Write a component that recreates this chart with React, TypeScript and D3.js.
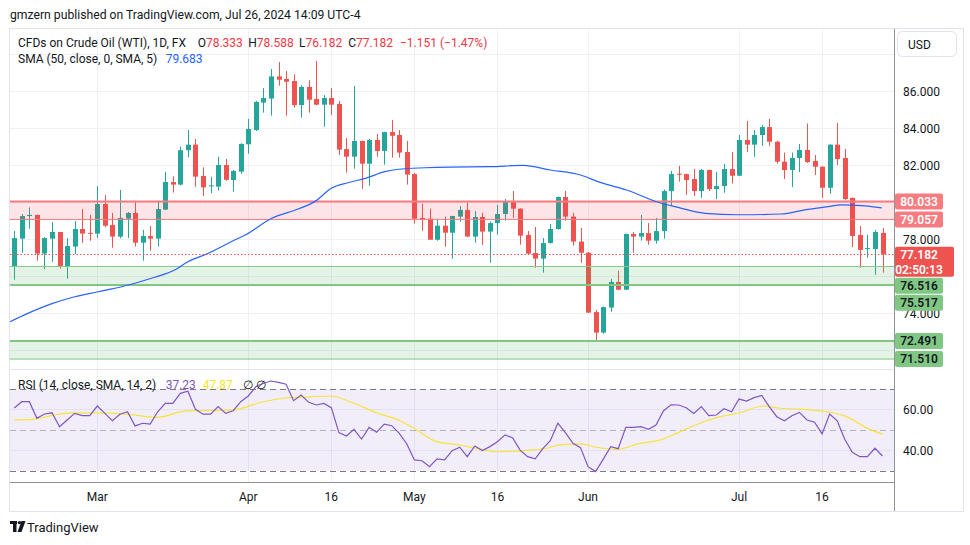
import React from 'react';
import * as d3 from 'd3';

// ---------- DATA ----------
const OPEN = [76.54,78.02,79.24,79.30,77.21,78.02,78.38,76.54,77.59,78.54,78.33,78.29,79.89,78.76,78.13,79.10,79.41,77.80,78.16,78.02,
  79.59,81.08,80.94,82.80,83.10,81.41,80.86,80.83,82.00,81.19,81.64,83.12,83.89,85.37,85.59,86.79,86.65,86.54,85.24,86.22,
  85.57,85.26,85.62,85.30,82.86,82.45,83.30,82.07,83.35,82.76,83.78,83.62,82.70,81.51,79.14,79.10,77.96,78.72,78.34,79.21,
  79.57,78.13,79.19,78.40,78.86,79.35,80.00,79.64,78.22,77.24,76.94,77.78,78.54,80.27,79.21,77.86,77.26,74.05,72.94,74.29,
  75.68,75.26,78.27,78.13,78.32,77.91,78.43,80.59,81.53,81.51,81.24,80.59,81.73,80.70,80.86,81.78,81.42,83.35,83.10,83.62,
  84.05,83.26,82.18,81.73,82.38,82.81,82.22,81.91,80.77,83.10,82.38,80.22,78.22,77.45,77.46,78.333];
const HIGH = [78.43,79.35,79.71,79.32,78.10,78.92,78.38,78.05,78.97,79.62,79.30,80.86,80.38,79.41,80.65,79.46,80.02,78.49,78.70,80.08,
  81.63,81.39,83.00,83.90,83.40,81.87,81.37,82.45,82.32,81.73,83.17,84.49,85.46,86.16,87.19,87.57,87.08,86.90,86.31,86.59,
  87.62,85.78,86.16,85.46,83.46,86.27,83.32,83.41,83.68,83.80,84.43,83.89,83.30,81.57,79.91,79.64,79.10,79.21,79.26,79.78,
  79.95,79.51,79.41,78.94,79.84,80.16,80.59,79.66,78.43,78.65,78.05,78.81,80.30,80.59,79.41,78.59,77.30,74.16,74.35,75.84,
  76.29,78.30,78.38,79.30,78.86,79.14,80.67,81.68,81.95,81.53,81.78,81.78,81.75,81.62,82.05,82.70,83.62,84.38,83.89,84.16,
  84.49,83.30,82.67,82.67,83.14,84.24,82.54,81.93,83.12,84.27,82.86,80.25,78.70,78.22,78.49,78.588];
const LOW = [75.80,77.26,78.56,76.83,76.36,76.76,76.40,75.85,77.19,77.80,77.91,78.05,78.63,77.53,78.04,78.05,77.59,76.83,77.37,77.59,
  79.57,80.51,80.90,82.41,80.83,80.32,80.47,80.61,81.15,80.56,81.53,82.61,83.84,84.83,84.67,86.29,84.67,85.10,84.56,84.83,
  85.24,84.07,84.70,82.54,81.59,81.80,80.72,80.88,82.45,82.02,82.40,82.40,80.94,78.83,78.45,77.95,77.91,77.59,76.94,78.94,
  78.10,77.80,77.69,76.72,78.23,78.99,79.14,77.69,77.18,76.45,76.18,77.75,78.50,78.99,77.64,76.72,74.00,72.50,72.88,74.07,
  75.24,75.24,77.26,77.91,77.69,77.75,78.02,79.84,81.10,80.38,80.32,80.22,80.59,80.16,80.50,81.00,81.40,82.70,82.45,83.04,
  83.04,82.07,81.24,80.81,81.62,82.11,81.46,80.22,80.45,82.00,80.11,77.57,76.45,76.99,76.07,76.182];
const CLOSE = [78.05,79.24,79.30,77.21,78.05,78.38,76.54,77.62,78.54,78.29,78.30,79.89,78.72,78.13,79.14,79.41,77.80,78.16,78.02,79.62,
  81.08,80.94,82.80,83.10,81.37,80.79,80.90,82.00,81.20,81.68,83.14,83.95,85.41,85.62,86.79,86.61,86.50,85.24,86.22,85.53,
  85.26,85.62,85.26,82.83,82.45,83.30,82.07,83.35,82.76,83.78,83.58,82.67,81.48,79.10,79.05,77.96,78.72,78.34,79.24,79.57,
  78.13,79.19,78.40,78.86,79.35,80.00,79.64,78.18,77.21,76.94,77.78,78.54,80.27,79.21,77.86,77.26,74.02,72.94,74.32,75.68,
  75.26,78.27,78.13,78.32,77.91,78.43,80.59,81.51,81.48,81.19,80.59,81.73,80.70,80.86,81.78,81.42,83.35,83.10,83.62,84.05,
  83.26,82.18,81.73,82.38,82.81,82.16,81.91,80.77,83.10,82.32,80.16,78.16,77.41,77.51,78.38,77.182];

// SMA(50) read at sample bar positions: [bar index, value]
const SMA50: [number, number][] = [[-0.56,73.53],[1.8,73.98],[4.9,74.49],[8,74.88],[11.1,75.15],[14.2,75.42],[18.6,75.93],
  [21.25,76.32],[23,76.77],[25.7,77.23],[29,77.91],[30.6,78.22],[34.1,79.12],[37.6,79.62],[39.8,80.02],[42,80.74],
  [44.2,81.04],[46.5,81.28],[49.1,81.64],[50.9,81.77],[54.4,81.85],[57.7,81.89],[63,81.91],[67.4,81.98],[71,81.73],
  [75,81.46],[77.6,81.06],[81.1,80.65],[85.5,79.96],[87.5,79.75],[91.5,79.39],[95.9,79.31],[101.6,79.35],[104.7,79.57],
  [107.8,79.75],[109.6,79.85],[112.2,79.80],[114.9,79.683]];

const RSI = [60.6,63.7,63.7,55.6,57.7,58.3,51.5,54.8,58.0,56.9,56.9,61.6,58.0,54.4,57.6,58.8,51.9,53.2,52.8,58.8,
  62.9,62.9,67.8,68.8,60.0,57.6,57.6,61.3,58.0,59.3,63.7,66.5,71.0,72.7,73.8,73.1,72.2,64.2,67.0,63.4,
  62.1,62.9,60.8,48.6,47.0,50.2,45.5,51.2,48.8,52.8,52.0,48.3,43.1,35.3,34.9,32.0,35.8,35.3,39.8,41.5,
  36.9,42.1,39.9,41.8,44.2,47.5,46.1,40.1,36.9,35.8,40.8,44.7,53.2,48.6,43.4,41.3,32.0,29.6,35.6,41.8,
  40.8,51.2,51.2,51.5,50.2,52.3,59.3,62.2,62.1,60.8,58.0,61.3,56.9,57.2,60.3,58.8,65.0,64.0,65.7,66.8,
  61.3,56.4,54.4,56.9,58.5,54.8,53.7,48.0,57.7,54.4,45.4,39.0,36.9,36.9,41.0,37.23];

const RSI_MA: [number, number][] = [[0,54.8],[2.5,55.1],[5.2,57.2],[7.8,58.3],[10.9,58.3],[14.9,57.6],[18.9,56.1],[22.8,59.2],
  [29,59.7],[33,63.7],[35.6,65.4],[39.2,66.1],[42,66.5],[44.5,63.7],[48,58.3],[51.1,54.4],[53.3,49.9],[55.95,44.2],
  [59,42.6],[61.7,40.6],[63.9,39.3],[68.3,40.1],[70.5,41.0],[72.3,42.6],[75,43.1],[77.1,41.5],[79.8,40.5],[82.9,43.4],
  [85.5,45.0],[88.2,49.1],[90.8,53.2],[93.5,56.4],[96.1,58.3],[99.2,61.6],[101.4,60.5],[104.1,60.1],[108.5,58.3],
  [110.2,56.4],[113,50.7],[115,47.87]];

const X_TICK_BARS = [11, 31, 42, 53, 64, 76, 96, 107];
const X_TICK_LABELS = ['Mar', 'Apr', '16', 'May', '16', 'Jun', 'Jul', '16'];
const PRICE_TICKS = [86, 84, 82, 80, 78, 76, 74, 72];
const PRICE_GRID = [88, 86, 84, 82, 80, 78, 76, 74, 72];
const RSI_TICKS = [60, 40];
const LAST_CLOSE = 77.182;
const RED_ZONE = [80.033, 79.057];
const GREEN_ZONES = [[76.516, 75.517], [72.491, 71.510]];

// ---------- LAYOUT ----------
const W = 970, H = 545;
const PL = 10, PR = 894;
const MAIN_T = 29, MAIN_B = 369.5, RSI_B = 482, AXIS_B = 511;
const FONT = "Roboto, 'Liberation Sans', sans-serif";
const UP = '#26a69a', DOWN = '#ef5350';
const TXT = '#131722';

export default function App() {
  const x = d3.scaleLinear().domain([0, 115]).range([14.25, 882.5]);
  const y = d3.scaleLinear().domain([72, 86]).range([350, 91]);
  const yr = d3.scaleLinear().domain([40, 60]).range([450.3, 409.3]);

  const smaPath = d3.line<[number, number]>().x(d => x(d[0])).y(d => y(d[1])).curve(d3.curveMonotoneX)(SMA50) || '';
  const rsiPath = d3.line<number>().x((_, i) => x(i)).y(d => yr(d))(RSI) || '';
  const rsiMaPath = d3.line<[number, number]>().x(d => x(d[0])).y(d => yr(d[1])).curve(d3.curveMonotoneX)(RSI_MA) || '';

  // price tags with simple collision stacking
  type Tag = { v: number; h: number; off: number; fill: string; color: string; lines: string[]; w: number };
  const tags: Tag[] = [
    { v: RED_ZONE[0], h: 16, off: 8, fill: '#f77c80', color: '#fff', lines: [RED_ZONE[0].toFixed(3)], w: 48 },
    { v: RED_ZONE[1], h: 16, off: 8, fill: '#f77c80', color: '#fff', lines: [RED_ZONE[1].toFixed(3)], w: 48 },
    { v: LAST_CLOSE, h: 30, off: 7.5, fill: '#ef5350', color: '#fff', lines: [LAST_CLOSE.toFixed(3), '02:50:13'], w: 59 },
    { v: GREEN_ZONES[0][0], h: 16, off: 8, fill: '#81c784', color: TXT, lines: [GREEN_ZONES[0][0].toFixed(3)], w: 48 },
    { v: GREEN_ZONES[0][1], h: 16, off: 8, fill: '#81c784', color: TXT, lines: [GREEN_ZONES[0][1].toFixed(3)], w: 48 },
    { v: GREEN_ZONES[1][0], h: 16, off: 8, fill: '#81c784', color: TXT, lines: [GREEN_ZONES[1][0].toFixed(3)], w: 48 },
    { v: GREEN_ZONES[1][1], h: 16, off: 8, fill: '#81c784', color: TXT, lines: [GREEN_ZONES[1][1].toFixed(3)], w: 48 },
  ];
  let prevBottom = -Infinity;
  const placed = tags.map(t => {
    let top = y(t.v) - t.off;
    if (top < prevBottom + 1) top = prevBottom + 1;
    prevBottom = top + t.h;
    return { ...t, top };
  });
  // hide axis labels mostly covered by a tag (as the price scale does)
  const visibleTicks = PRICE_TICKS.filter(p => {
    const c = y(p), a = c - 6, b = c + 6;
    let cover = 0;
    placed.forEach(t => {
      cover += Math.max(0, Math.min(b, t.top + t.h) - Math.max(a, t.top));
    });
    return cover < 5;
  });

  return (
    <svg width={W} height={H} style={{ position: 'absolute', left: 0, top: 0, background: '#fff' }} fontFamily={FONT}>
      <rect x={0} y={0} width={W} height={H} fill="#fff" />
      {/* header */}
      <text x={10} y={19} fontSize={12.2} fill={TXT}>gmzern published on TradingView.com, Jul 26, 2024 14:09 UTC-4</text>

      {/* frame */}
      <rect x={9.5} y={28.5} width={954} height={483} fill="none" stroke="#e0e3eb" />

      {/* grid */}
      {X_TICK_BARS.map((b, i) => (
        <line key={'vg' + i} x1={Math.round(x(b)) + 0.5} x2={Math.round(x(b)) + 0.5} y1={MAIN_T} y2={RSI_B} stroke="#eef0f6" />
      ))}
      {PRICE_GRID.map((p, i) => (
        <line key={'hg' + i} x1={PL} x2={PR} y1={Math.round(y(p)) + 0.5} y2={Math.round(y(p)) + 0.5} stroke="#eef0f6" />
      ))}

      {/* RSI pane */}
      <rect x={PL} y={yr(70)} width={PR - PL} height={yr(30) - yr(70)} fill="rgba(126,87,194,0.1)" />
      {RSI_TICKS.map((v, i) => (
        <line key={'rg' + i} x1={PL} x2={PR} y1={Math.round(yr(v)) + 0.5} y2={Math.round(yr(v)) + 0.5} stroke="#e4e1f0" />
      ))}
      <line x1={PL} x2={PR} y1={Math.round(yr(70)) + 0.5} y2={Math.round(yr(70)) + 0.5} stroke="#787b86" strokeDasharray="6 4" />
      <line x1={PL} x2={PR} y1={Math.round(yr(50)) + 0.5} y2={Math.round(yr(50)) + 0.5} stroke="#b2b5be" strokeDasharray="6 4" />
      <line x1={PL} x2={PR} y1={Math.round(yr(30)) + 0.5} y2={Math.round(yr(30)) + 0.5} stroke="#787b86" strokeDasharray="6 4" />
      <path d={rsiMaPath} fill="none" stroke="#f9e23c" strokeWidth={1.2} />
      <path d={rsiPath} fill="none" stroke="#7e57c2" strokeWidth={1.2} />

      {/* pane separator */}
      <line x1={PL} x2={PR} y1={MAIN_B} y2={MAIN_B} stroke="#e0e3eb" />

      {/* candles */}
      {OPEN.map((o, i) => {
        const c = CLOSE[i];
        const cx = Math.round(x(i));
        const col = c >= o ? UP : DOWN;
        const top = y(Math.max(o, c)), bot = y(Math.min(o, c));
        return (
          <g key={'c' + i}>
            <line x1={cx + 0.5} x2={cx + 0.5} y1={y(HIGH[i])} y2={y(LOW[i])} stroke={col} />
            <rect x={cx - 2} y={top} width={5} height={Math.max(1, bot - top)} fill={col} />
          </g>
        );
      })}

      {/* zones */}
      <rect x={PL} y={y(RED_ZONE[0])} width={PR - PL} height={y(RED_ZONE[1]) - y(RED_ZONE[0])} fill="rgba(242,54,69,0.13)" />
      <line x1={PL} x2={PR} y1={y(RED_ZONE[0])} y2={y(RED_ZONE[0])} stroke="#f77c80" strokeWidth={2} />
      <line x1={PL} x2={PR} y1={y(RED_ZONE[1])} y2={y(RED_ZONE[1])} stroke="#f77c80" strokeWidth={1} />
      {GREEN_ZONES.map((z, i) => (
        <g key={'gz' + i}>
          <rect x={PL} y={y(z[0])} width={PR - PL} height={y(z[1]) - y(z[0])} fill="rgba(76,175,80,0.15)" />
          <line x1={PL} x2={PR} y1={y(z[0])} y2={y(z[0])} stroke="#81c784" strokeWidth={i === 0 ? 1 : 2} />
          <line x1={PL} x2={PR} y1={y(z[1])} y2={y(z[1])} stroke="#81c784" strokeWidth={i === 0 ? 2 : 1} />
        </g>
      ))}

      {/* SMA */}
      <path d={smaPath} fill="none" stroke="#2962ff" strokeWidth={1.2} />

      {/* last close line */}
      <line x1={PL} x2={PR} y1={Math.round(y(LAST_CLOSE)) + 0.5} y2={Math.round(y(LAST_CLOSE)) + 0.5} stroke="#ef5350" strokeDasharray="1.5 2" />

      {/* legends */}
      <text x={18} y={47} fontSize={12} fill={TXT}>CFDs on Crude Oil (WTI), 1D, FX</text>
      {[['O', '78.333', 197.7], ['H', '78.588', 248.3], ['L', '76.182', 299], ['C', '77.182', 348.3]].map(([k, v, px]) => (
        <text key={k as string} x={px as number} y={47} fontSize={12}>
          <tspan fill={TXT}>{k}</tspan><tspan fill="#f23645">{v}</tspan>
        </text>
      ))}
      <text x={400} y={47} fontSize={12} fill="#f23645">−1.151 (−1.47%)</text>
      <text x={18} y={63} fontSize={12} fill={TXT}>SMA (50, close, 0, SMA, 5)</text>
      <text x={165.7} y={63} fontSize={12} fill="#2962ff">79.683</text>

      <text x={18} y={389} fontSize={12} fill={TXT}>RSI (14, close, SMA, 14, 2)</text>
      <text x={165.7} y={389} fontSize={12} fill="#7e57c2">37.23</text>
      <text x={202.7} y={389} fontSize={12} fill="#f7e52c">47.87</text>
      <text x={243} y={389} fontSize={12} fill={TXT}>∅</text>
      <text x={256} y={389} fontSize={12} fill={TXT}>∅</text>

      {/* right axis */}
      <line x1={PR + 0.5} x2={PR + 0.5} y1={MAIN_T} y2={AXIS_B} stroke="#8f929b" />
      <rect x={897.5} y={31.5} width={59} height={25} rx={5} fill="#fff" stroke="#e0e3eb" />
      <text x={908} y={48.5} fontSize={12} fill={TXT}>USD</text>
      {visibleTicks.map((p, i) => (
        <text key={'pt' + i} x={903} y={y(p) + 4.5} fontSize={12} fill={TXT}>{p.toFixed(3)}</text>
      ))}
      {RSI_TICKS.map((v, i) => (
        <text key={'rt' + i} x={903} y={yr(v) + 4.5} fontSize={12} fill={TXT}>{v.toFixed(2)}</text>
      ))}
      {placed.map((t, i) => (
        <g key={'tag' + i}>
          <rect x={895} y={t.top} width={t.w} height={t.h} rx={2} fill={t.fill} />
          {t.lines.map((s, j) => (
            <text key={j} x={919} y={t.top + 12.3 + j * 15} fontSize={12} fontWeight={600} fill={t.color} textAnchor="middle">{s}</text>
          ))}
        </g>
      ))}

      {/* time axis */}
      <line x1={PL} x2={PR} y1={RSI_B + 0.5} y2={RSI_B + 0.5} stroke="#8f929b" />
      {X_TICK_BARS.map((b, i) => (
        <text key={'xt' + i} x={x(b)} y={501} fontSize={12} fill={TXT} textAnchor="middle">{X_TICK_LABELS[i]}</text>
      ))}

      {/* footer logo */}
      <g fill={TXT}>
        <rect x={10} y={521} width={7} height={3} />
        <rect x={13} y={521} width={3.5} height={11} />
        <circle cx={19.5} cy={522.6} r={1.7} />
        <polygon points="21.5,521 25.5,521 21.5,532 17.5,532" />
      </g>
      <text x={27} y={532} fontSize={13} fill={TXT}>TradingView</text>
    </svg>
  );
}
